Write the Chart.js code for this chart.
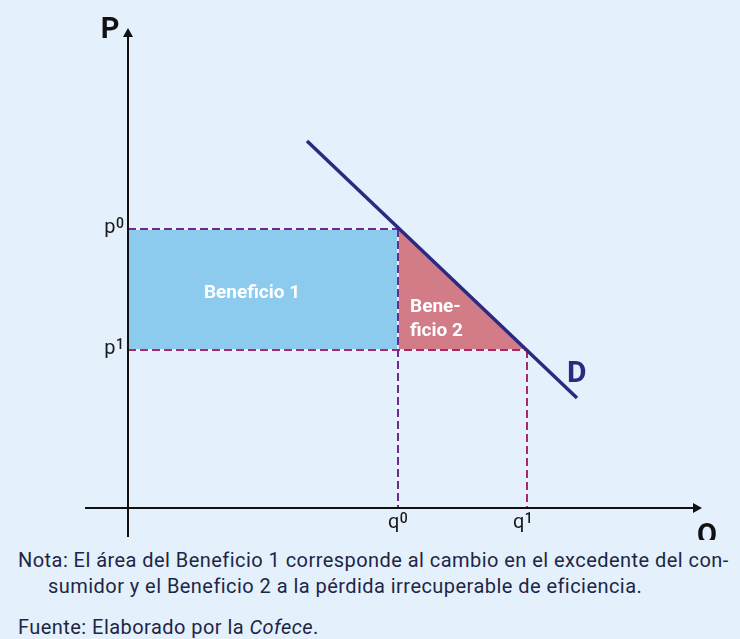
<!DOCTYPE html>
<html lang="es">
<head>
<meta charset="utf-8">
<script src="https://cdn.jsdelivr.net/npm/chart.js@4.4.1/dist/chart.umd.min.js"></script>
<style>
  html, body { margin: 0; padding: 0; background: #e4f0fb; }
  body { width: 740px; height: 639px; overflow: hidden; position: relative; font-family: Roboto, "Noto Sans", sans-serif; color: #1d2647; }
  #wrap { position: absolute; left: 0; top: 0; width: 740px; height: 540px; }
  .nota { position: absolute; left: 18px; top: 547px; font-size: 20px; letter-spacing: 0.45px; line-height: 26px; white-space: nowrap; }
  .nota span { padding-left: 30px; }
  .fuente { position: absolute; left: 18px; top: 614px; font-size: 20px; letter-spacing: 0.45px; line-height: 26px; }
</style>
</head>
<body>
<div id="wrap"><canvas id="myChart" width="740" height="540"></canvas></div>
<div class="nota">Nota: El área del Beneficio 1 corresponde al cambio en el excedente del con-<br><span>sumidor y el Beneficio 2 a la pérdida irrecuperable de eficiencia.</span></div>
<div class="fuente">Fuente: Elaborado por la <i>Cofece</i>.</div>
<script>
// values are in plot units: origin where the axes cross
const axisNames = ['P', 'Q'];
const priceTicks = [['p', '0'], ['p', '1']];
const priceValues = [279, 158];
const qtyTicks = [['q', '0'], ['q', '1']];
const qtyValues = [270, 399];
const demandQ = [179, 449];
const demandP = [367, 110];
const demandName = 'D';
const areaNames = [['Beneficio 1'], ['Bene-', 'ficio 2']];

const p0 = priceValues[0], p1 = priceValues[1];
const q0 = qtyValues[0], q1 = qtyValues[1];

const purple = '#6d2a8e';
const crimson = '#a8286c';

function pts(xs, ys) {
  return xs.map((x, i) => ({x: x, y: ys[i]}));
}

function dashed(data, color, order) {
  return {data: data, borderColor: color, borderWidth: 2, borderDash: [8, 4], pointRadius: 0, fill: false, order: order};
}

const datasets = [
  // demand curve on top
  {data: pts(demandQ, demandP), borderColor: '#2c2a80', borderWidth: 3.5, pointRadius: 0, fill: false, order: 0},
  dashed(pts([0, q0], [p0, p0]), purple, 1),
  dashed(pts([q0, q0], [p0, 0]), purple, 1),
  dashed(pts([0, q1], [p1, p1]), crimson, 1),
  dashed(pts([q1, q1], [p1, 0]), crimson, 1),
  // light under-line so dash gaps look pale
  {data: pts([0, q0, q0], [p0, p0, 0]), borderColor: 'rgba(240,247,253,0.8)', borderWidth: 2, pointRadius: 0, fill: false, order: 2},
  {data: pts([0, q1, q1], [p1, p1, 0]), borderColor: 'rgba(240,247,253,0.8)', borderWidth: 2, pointRadius: 0, fill: false, order: 2},
  // Beneficio 1
  {data: pts([0, q0, q0, 0, 0], [p0, p0, p1, p1, p0]), borderWidth: 0, borderColor: 'rgba(0,0,0,0)',
   backgroundColor: '#8ccbee', fill: 'shape', pointRadius: 0, order: 3},
  // Beneficio 2
  {data: pts([q0, q1, q0, q0], [p0, p1, p1, p0]), borderWidth: 0, borderColor: 'rgba(0,0,0,0)',
   backgroundColor: '#d27c88', fill: 'shape', pointRadius: 0, order: 3}
];

// letter plus raised index, left aligned at x
function supLabel(ctx, pair, x, y) {
  ctx.font = '20px Roboto';
  ctx.fillText(pair[0], x, y);
  const w = ctx.measureText(pair[0]).width;
  ctx.font = '500 14px Roboto';
  ctx.fillText(pair[1], x + w + 0.5, y - 5);
}

function supWidth(ctx, pair) {
  ctx.font = '20px Roboto';
  const w = ctx.measureText(pair[0]).width;
  ctx.font = '500 14px Roboto';
  return w + 0.5 + ctx.measureText(pair[1]).width;
}

const drawExtras = {
  id: 'drawExtras',
  afterDatasetsDraw(chart) {
    const ctx = chart.ctx;
    const xs = chart.scales.x, ys = chart.scales.y;
    const ox = xs.getPixelForValue(0), oy = ys.getPixelForValue(0);
    ctx.save();
    // axes with arrows
    ctx.strokeStyle = '#111';
    ctx.fillStyle = '#111';
    ctx.lineWidth = 2;
    ctx.beginPath();
    ctx.moveTo(ox, 537); ctx.lineTo(ox, 34);
    ctx.moveTo(85, oy); ctx.lineTo(696, oy);
    ctx.stroke();
    ctx.beginPath();
    ctx.moveTo(ox, 28); ctx.lineTo(ox - 5, 37); ctx.lineTo(ox + 5, 37); ctx.closePath();
    ctx.moveTo(702, oy); ctx.lineTo(693, oy - 5); ctx.lineTo(693, oy + 5); ctx.closePath();
    ctx.fill();

    ctx.font = 'bold 29px Roboto';
    ctx.textBaseline = 'alphabetic';
    ctx.textAlign = 'center';
    ctx.fillText(axisNames[0], 110, 38);
    ctx.fillText(axisNames[1], 707, 544);

    // tick labels
    ctx.fillStyle = '#1a1a1a';
    ctx.textAlign = 'left';
    priceTicks.forEach((t, i) => {
      const w = supWidth(ctx, t);
      supLabel(ctx, t, ox - 4 - w, ys.getPixelForValue(priceValues[i]) + 4);
    });
    const qOff = [-10, -14];
    qtyTicks.forEach((t, i) => supLabel(ctx, t, xs.getPixelForValue(qtyValues[i]) + qOff[i], 528));

    // demand label
    ctx.font = 'bold 30px Roboto';
    ctx.fillStyle = '#2c2a80';
    ctx.fillText(demandName, 567, 382);

    // area labels
    ctx.font = 'bold 19px Roboto';
    ctx.fillStyle = '#ffffff';
    ctx.textAlign = 'center';
    ctx.fillText(areaNames[0][0], 252, 298);
    ctx.textAlign = 'left';
    const bx = xs.getPixelForValue(q0) + 12;
    ctx.fillText(areaNames[1][0], bx, 312);
    ctx.fillText(areaNames[1][1], bx, 336);
    ctx.restore();
  }
};

new Chart(document.getElementById('myChart').getContext('2d'), {
  type: 'line',
  data: {datasets: datasets},
  options: {
    responsive: false,
    animation: false,
    devicePixelRatio: 1,
    layout: {padding: 0},
    plugins: {legend: {display: false}, tooltip: {enabled: false}},
    scales: {
      x: {type: 'linear', min: -128, max: 612, display: false},
      y: {type: 'linear', min: -32, max: 508, display: false}
    }
  },
  plugins: [drawExtras]
});
</script>
</body>
</html>
